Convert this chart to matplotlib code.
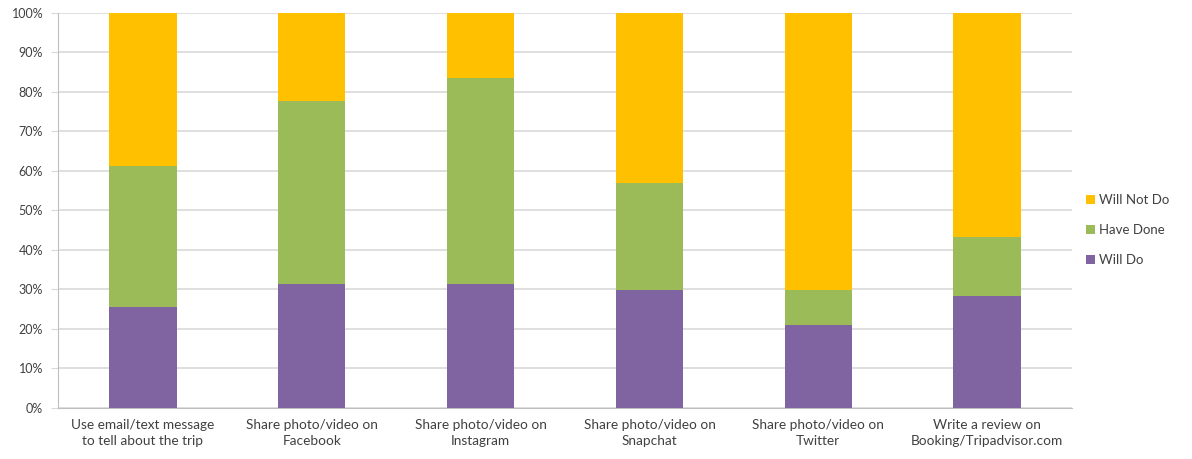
import matplotlib
matplotlib.use("Agg")
import matplotlib.pyplot as plt
import numpy as np

plt.rcParams['font.family'] = ['Lato', 'DejaVu Sans']

categories = [
    "Use email/text message\nto tell about the trip",
    "Share photo/video on\nFacebook",
    "Share photo/video on\nInstagram",
    "Share photo/video on\nSnapchat",
    "Share photo/video on\nTwitter",
    "Write a review on\nBooking/Tripadvisor.com",
]
will_do     = [25.5, 31.2, 31.2, 29.9, 21.0, 28.3]
have_done   = [35.7, 46.4, 52.2, 26.9,  8.9, 15.0]
will_not_do = [38.8, 22.4, 16.6, 43.2, 70.1, 56.7]

colors = {"Will Do": "#8064A2", "Have Done": "#9BBB59", "Will Not Do": "#FFC000"}

fig = plt.figure(figsize=(11.92, 4.59), dpi=100)
ax = fig.add_axes([0.049, 0.112, 0.850, 0.860])

x = np.arange(len(categories))
w = 0.4
b1 = ax.bar(x, will_do, w, color=colors["Will Do"], label="Will Do", zorder=3)
b2 = ax.bar(x, have_done, w, bottom=will_do, color=colors["Have Done"],
            label="Have Done", zorder=3)
bottom3 = np.array(will_do) + np.array(have_done)
b3 = ax.bar(x, will_not_do, w, bottom=bottom3, color=colors["Will Not Do"],
            label="Will Not Do", zorder=3)

ax.set_xlim(-0.5, len(categories) - 0.5)
ax.set_ylim(0, 100)
ax.set_yticks(np.arange(0, 101, 10))
ax.set_yticklabels([f"{v}%" for v in range(0, 101, 10)])
ax.set_xticks(x)
ax.set_xticklabels(categories, linespacing=1.45)
ax.yaxis.grid(True, color="#D9D9D9", linewidth=1.2, zorder=0)
ax.set_axisbelow(True)

for s in ["top", "right"]:
    ax.spines[s].set_visible(False)
for s in ["left", "bottom"]:
    ax.spines[s].set_color("#BFBFBF")
ax.tick_params(axis="y", length=5, color="#D9D9D9", labelsize=9, labelcolor="#404040", pad=6)
ax.tick_params(axis="x", length=0, labelsize=9.8, labelcolor="#404040", pad=8)

leg = ax.legend(handles=[b3, b2, b1], loc="center left", bbox_to_anchor=(1.002, 0.45),
                frameon=False, fontsize=9.5, handlelength=0.7, handleheight=0.7,
                handletextpad=0.3, labelspacing=1.35)
for t in leg.get_texts():
    t.set_color("#404040")

fig.savefig("out.png", dpi=100)
